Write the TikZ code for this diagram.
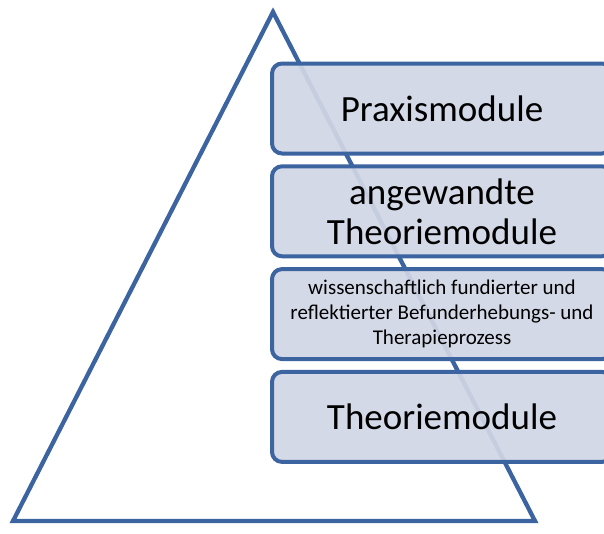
\documentclass[tikz,border=0pt]{standalone}
\usepackage{fontspec}
\setmainfont{Carlito}
\usetikzlibrary{positioning}
\definecolor{pyrblue}{RGB}{59,100,160}
\definecolor{layerfill}{RGB}{208,214,228}
\tikzset{
  layer/.style={draw=pyrblue, line width=4pt, rectangle, rounded corners=10pt, minimum width=340pt, minimum height=90pt, inner sep=2pt, outer sep=0pt, align=center, fill=layerfill, fill opacity=0.93, text opacity=1, font=\fontsize{37}{40}\selectfont},
  smalllayer/.style={layer, font=\fontsize{21}{25}\selectfont},
  pyramid/.style={draw=pyrblue, line width=4.3pt, line join=miter}
}

\begin{document}
\begin{tikzpicture}[x=1pt, y=-1pt, node distance=12.8pt]
  \useasboundingbox (0,0) rectangle (604,533);
  \clip (0,0) rectangle (604,533);
  % pyramid
  \coordinate (apex) at (273,12);
  \coordinate (left) at (13,521);
  \coordinate (right) at (535,521);
  \draw[pyramid] (apex) -- (left) -- (right) -- cycle;
  % layers
  \node[layer] (praxis) at (442,108.5) {Praxismodule};
  \node[layer, below=of praxis] (angewandt) {angewandte\\Theoriemodule};
  \node[smalllayer, below=of angewandt] (prozess) {wissenschaftlich fundierter und\\reflektierter Befunderhebungs- und\\Therapieprozess};
  \node[layer, below=of prozess] (theorie) {Theoriemodule};
\end{tikzpicture}
\end{document}
